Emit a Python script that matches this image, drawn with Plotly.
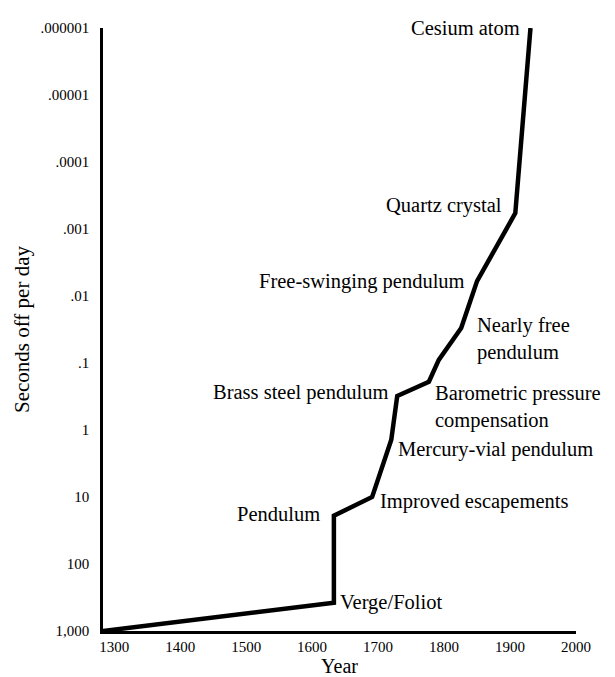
import math
import plotly.graph_objects as go

# Data
years = [1283, 1633, 1633, 1691, 1720, 1729, 1777, 1792, 1826, 1850, 1908, 1931]
secs_off = [1000, 380, 19, 10, 1.4, 0.31, 0.19, 0.09, 0.03, 0.006, 0.00058, 0.000001]

y_tickvals = [1000, 100, 10, 1, 0.1, 0.01, 0.001, 0.0001, 0.00001, 0.000001]
y_ticktext = ["1,000", "100", "10", "1", ".1", ".01", ".001", ".0001", ".00001", ".000001"]
x_tickvals = [1300, 1400, 1500, 1600, 1700, 1800, 1900, 2000]
x_ticktext = ["1300", "1400", "1500", "1600", "1700", "1800", "1900", "2000"]

# label text, index of point it belongs to
labels = [
    ("Verge/Foliot", 1),
    ("Pendulum", 2),
    ("Improved escapements", 3),
    ("Mercury-vial pendulum", 4),
    ("Brass steel pendulum", 5),
    ("Barometric pressure<br>compensation", 6),
    ("Nearly free<br>pendulum", 8),
    ("Free-swinging pendulum", 9),
    ("Quartz crystal", 10),
    ("Cesium atom", 11),
]

FONT = "Liberation Serif"
fig = go.Figure()
fig.add_trace(go.Scatter(x=years, y=secs_off, mode="lines",
                         line=dict(color="black", width=4.5), hoverinfo="skip",
                         showlegend=False))

# placement style per label: (xanchor, yanchor, xshift, yshift)
place = {
    "Verge/Foliot": ("left", "middle", 4, 0),
    "Pendulum": ("right", "middle", -12, 2),
    "Improved escapements": ("left", "middle", 6, -4),
    "Mercury-vial pendulum": ("left", "middle", 5, -10),
    "Brass steel pendulum": ("right", "middle", -7, 3),
    "Barometric pressure<br>compensation": ("left", "top", 4, 2),
    "Nearly free<br>pendulum": ("left", "top", 14, 16),
    "Free-swinging pendulum": ("right", "middle", -10, 0),
    "Quartz crystal": ("right", "middle", -11, 8),
    "Cesium atom": ("right", "middle", -8, 0),
}
for text, i in labels:
    xa, ya, xs, ys = place[text]
    fig.add_annotation(x=years[i], y=math.log10(secs_off[i]), text=text,
                       showarrow=False, xanchor=xa, yanchor=ya, xshift=xs, yshift=ys,
                       align="left", font=dict(family=FONT, size=20.5, color="black"))

fig.update_layout(
    width=615, height=677,
    margin=dict(l=92, r=47, t=20, b=54),
    paper_bgcolor="white", plot_bgcolor="white",
    font=dict(family=FONT, color="black"),
    xaxis=dict(range=[1283, 2000], tickvals=x_tickvals, ticktext=x_ticktext,
               showgrid=False, zeroline=False, showline=True, linecolor="black",
               linewidth=2.5, ticks="", tickfont=dict(size=15, family=FONT),
               title=dict(text="Year", font=dict(size=20, family=FONT), standoff=2)),
    yaxis=dict(type="log", range=[3, -6], tickvals=y_tickvals, ticktext=y_ticktext,
               showgrid=False, zeroline=False, showline=True, linecolor="black",
               linewidth=2.5, ticks="", ticklabelstandoff=8,
               tickfont=dict(size=15, family=FONT),
               title=dict(text="Seconds off per day", font=dict(size=21, family=FONT), standoff=6)),
)

fig.write_html("out.html")
